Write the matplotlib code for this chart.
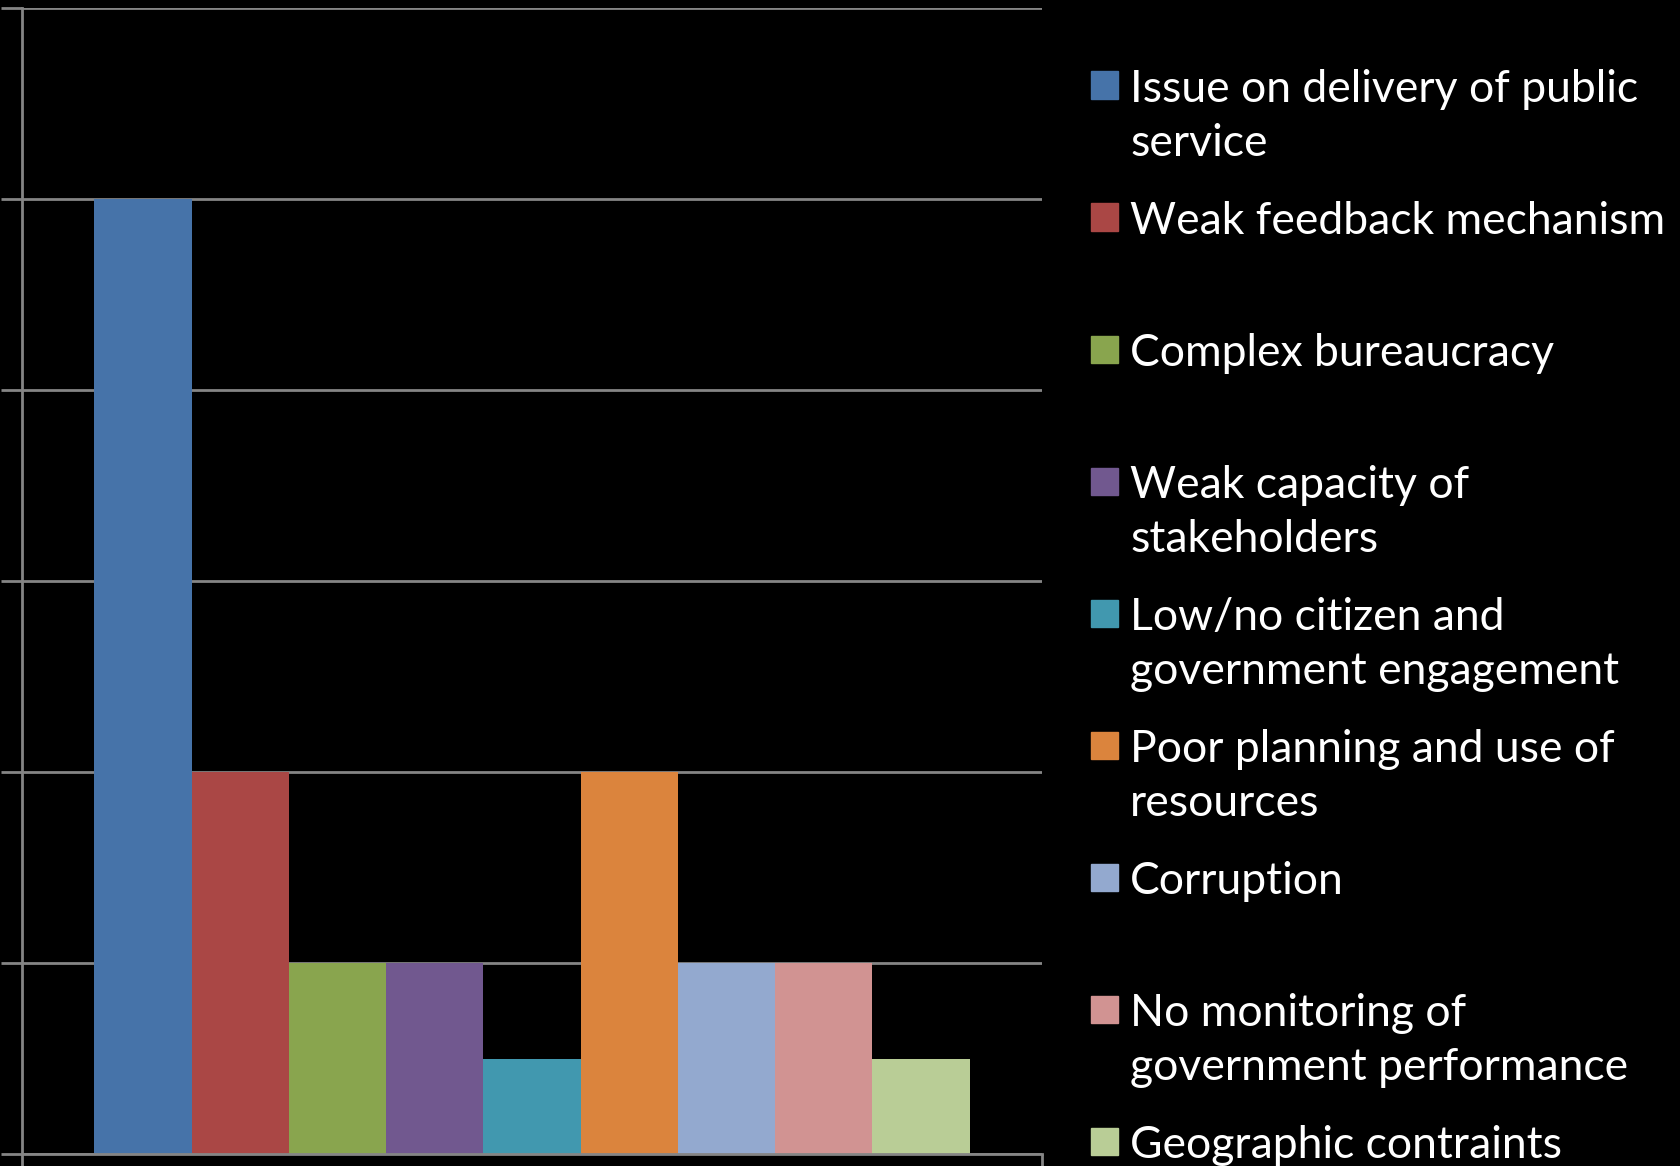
import matplotlib
matplotlib.use("Agg")
import matplotlib.pyplot as plt
from matplotlib.patches import Rectangle

categories = [
    "Issue on delivery of public\nservice",
    "Weak feedback mechanism",
    "Complex bureaucracy",
    "Weak capacity of\nstakeholders",
    "Low/no citizen and\ngovernment engagement",
    "Poor planning and use of\nresources",
    "Corruption",
    "No monitoring of\ngovernment performance",
    "Geographic contraints",
]
values = [10, 4, 2, 2, 1, 4, 2, 2, 1]
colors = ["#4673A9", "#AA4745", "#89A54E", "#71588F", "#4198AF",
          "#DB843D", "#93A9CF", "#D19392", "#B9CD96"]
y_ticks = [0, 2, 4, 6, 8, 10, 12]

W, H = 1681, 1166
fig = plt.figure(figsize=(W / 100, H / 100), dpi=100, facecolor="black")
ax = fig.add_axes([22 / W, 12 / H, 1020 / W, 1146 / H], facecolor="black")

grey = "#858585"
n = len(values)
group_w = 0.858
bw = group_w / n
for i, (v, c) in enumerate(zip(values, colors)):
    ax.bar(-group_w / 2 + i * bw, v, width=bw, align="edge", color=c,
           linewidth=0, zorder=3)

ax.set_xlim(-0.5, 0.5)
ax.set_ylim(0, 12)
ax.set_yticks(y_ticks)
ax.set_yticklabels([])
ax.set_xticks([-0.5, 0.5])
ax.set_xticklabels([])
ax.yaxis.grid(True, color=grey, linewidth=2, zorder=0)
ax.tick_params(axis="both", color=grey, width=2, length=15, direction="out")
for s in ["top", "right"]:
    ax.spines[s].set_visible(False)
for s in ["left", "bottom"]:
    ax.spines[s].set_color(grey)
    ax.spines[s].set_linewidth(2)
    ax.spines[s].set_zorder(4)

# legend drawn manually: marker aligned with first line of each entry
top_center = 85
slot = 132
for i, (lab, c) in enumerate(zip(categories, colors)):
    yc = top_center + i * slot
    fig.patches.append(Rectangle((1091 / W, 1 - (yc + 13.5) / H), 27 / W, 27 / H,
                                 transform=fig.transFigure, color=c, figure=fig))
    fig.text(1130 / W, 1 - (yc - 16.5) / H, lab, color="white", family="Lato",
             fontsize=32, va="top", ha="left", linespacing=1.42)

fig.savefig("out.png", dpi=100, facecolor="black")
